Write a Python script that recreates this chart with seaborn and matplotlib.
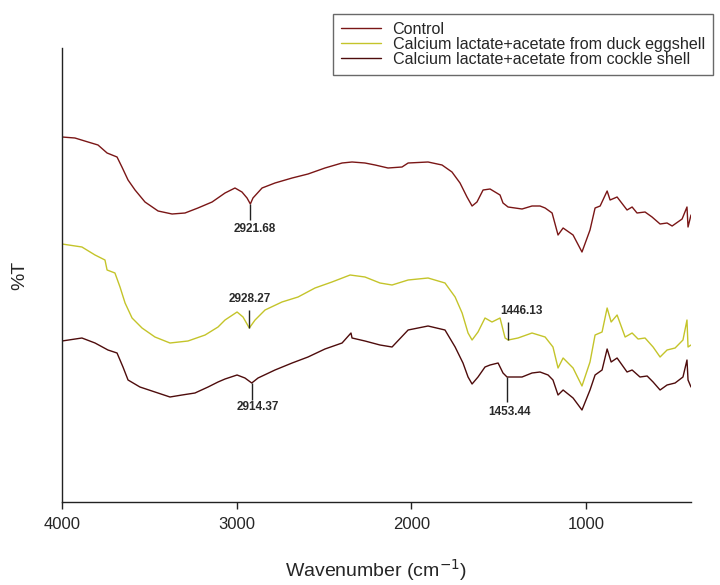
import numpy as np
import pandas as pd
import matplotlib
matplotlib.use("Agg")
import matplotlib.pyplot as plt
from matplotlib.lines import Line2D
import seaborn as sns

# ---------------- data ----------------
series_names = ["Control",
                "Calcium lactate+acetate from duck eggshell",
                "Calcium lactate+acetate from cockle shell"]

wn_control = [4000, 3926, 3851, 3794, 3742, 3685, 3657, 3622, 3582, 3525, 3450, 3370,
              3296, 3222, 3141, 3067, 3010, 2970, 2941, 2922, 2907, 2855, 2781, 2683,
              2592, 2495, 2397, 2340, 2266, 2208, 2134, 2054, 2019, 1905, 1825, 1768,
              1722, 1682, 1653, 1625, 1590, 1550, 1493, 1476, 1447, 1367, 1310, 1264,
              1235, 1195, 1161, 1132, 1075, 1024, 978, 949, 920, 880, 863, 823, 766,
              737, 709, 663, 623, 577, 537, 508, 451, 423, 417, 400]
t_control = [365, 364, 360, 357, 349, 345, 335, 322, 312, 300, 291, 288,
             289, 294, 300, 309, 314, 310, 304, 298, 304, 314, 319, 324,
             328, 334, 339, 340, 339, 337, 334, 335, 339, 340, 337, 330,
             319, 305, 296, 300, 312, 313, 307, 299, 295, 293, 296, 296,
             294, 289, 267, 274, 267, 250, 272, 294, 296, 311, 302, 305, 292,
             295, 289, 290, 285, 278, 279, 276, 283, 295, 275, 287]

wn_duck = [4000, 3886, 3811, 3754, 3742, 3697, 3668, 3639, 3599, 3542, 3468, 3382,
           3279, 3181, 3107, 3067, 2998, 2964, 2928, 2895, 2838, 2741, 2649, 2552,
           2455, 2351, 2266, 2180, 2111, 2019, 1905, 1808, 1750, 1710, 1676, 1653,
           1619, 1579, 1539, 1493, 1464, 1446, 1390, 1310, 1235, 1190, 1161, 1132,
           1075, 1024, 978, 949, 909, 880, 857, 823, 777, 737, 703, 663, 617, 577,
           537, 491, 446, 423, 417, 400]
t_duck = [258, 255, 247, 242, 232, 229, 215, 199, 184, 174, 165, 159,
          161, 167, 175, 182, 190, 185, 174, 182, 192, 200, 205, 214,
          220, 227, 225, 219, 217, 222, 224, 219, 205, 189, 169, 162,
          170, 184, 180, 184, 164, 162, 164, 169, 165, 155, 134, 144,
          134, 116, 140, 167, 170, 194, 180, 187, 165, 169, 163, 164, 155, 145,
          152, 154, 162, 182, 155, 157]

wn_cockle = [4000, 3886, 3811, 3737, 3685, 3651, 3622, 3554, 3468, 3382, 3313, 3239,
             3164, 3107, 3067, 2998, 2953, 2914, 2878, 2781, 2683, 2592, 2495, 2397,
             2346, 2340, 2266, 2180, 2111, 2019, 1905, 1808, 1750, 1705, 1676, 1653,
             1619, 1579, 1550, 1504, 1476, 1453, 1367, 1310, 1264, 1218, 1190, 1161,
             1132, 1075, 1024, 978, 949, 909, 880, 857, 823, 766, 737, 692, 651, 617,
             577, 537, 491, 446, 423, 417, 400]
t_cockle = [161, 164, 159, 152, 149, 135, 122, 115, 110, 105, 107, 109,
            115, 120, 123, 127, 124, 119, 124, 132, 139, 145, 153, 159,
            169, 164, 161, 157, 155, 172, 176, 172, 155, 139, 125, 118,
            125, 135, 137, 139, 129, 125, 125, 129, 130, 127, 122, 107,
            112, 104, 92, 112, 127, 132, 153, 140, 144, 130, 132, 125, 126, 120,
            112, 117, 119, 125, 142, 122, 115]

peak_labels = ["2921.68", "2928.27", "2914.37", "1446.13", "1453.44"]
peak_wn = [2921.68, 2928.27, 2914.37, 1446.13, 1453.44]
peak_series = [0, 1, 2, 1, 2]

x_ticks = [4000, 3000, 2000, 1000]

# ---------------- styling ----------------
sns.set_style("white")
plt.rcParams["font.family"] = ["Liberation Sans", "DejaVu Sans"]

colors = ["#7a1616", "#c4c42a", "#4e0c0c"]

frames = []
for name, wn, t in zip(series_names,
                       [wn_control, wn_duck, wn_cockle],
                       [t_control, t_duck, t_cockle]):
    frames.append(pd.DataFrame({"Wavenumber": wn, "T": t, "Sample": name}))
df = pd.concat(frames, ignore_index=True)

fig = plt.figure(figsize=(7.2, 5.85), dpi=100)
ax = fig.add_axes([62 / 720, 1 - 502 / 585, 629 / 720, 454 / 585])

sns.lineplot(data=df, x="Wavenumber", y="T", hue="Sample", hue_order=series_names,
             palette=colors, estimator=None, sort=False, linewidth=1.0,
             legend=False, ax=ax)

ax.set_xlim(4000, 400)
ax.set_ylim(0, 454)
ax.set_xticks(x_ticks)
ax.set_xticklabels([str(v) for v in x_ticks], fontsize=12)
ax.set_yticks([])
ax.tick_params(axis="x", direction="out", length=5, width=1, pad=5.5,
               color="#222222", bottom=True)
sns.despine(ax=ax)
for s in ["left", "bottom"]:
    ax.spines[s].set_color("#222222")
    ax.spines[s].set_linewidth(1.0)

ax.set_xlabel("Wavenumber (cm$^{-1}$)", fontsize=14)
ax.xaxis.set_label_coords(0.5, -0.122)
ax.set_ylabel("%T", fontsize=14)
ax.yaxis.set_label_coords(-0.054, 0.5)

# ---------------- peak annotations ----------------
all_wn = [wn_control, wn_duck, wn_cockle]
all_t = [t_control, t_duck, t_cockle]
# (line length, text offset, text x shift in px) per annotation
ann_style = [(-16, -25, 4), (18, 29, 0), (-17, -24, 6), (18, 29, 13), (-25, -35, 3)]
for lab, pw, si, (ln, to, dx) in zip(peak_labels, peak_wn, peak_series, ann_style):
    w = np.asarray(all_wn[si])[::-1]
    v = np.asarray(all_t[si])[::-1]
    val = np.interp(pw, w, v)
    ax.vlines(pw, val, val + ln, color="#222222", linewidth=1.0)
    ax.annotate(lab, xy=(pw, val + to), xytext=(dx * 0.72, 0),
                textcoords="offset points", ha="center", va="center",
                fontsize=8.5, color="#2a2a2a", fontweight="bold")

# ---------------- legend ----------------
handles = [Line2D([], [], color=c, linewidth=1.0) for c in colors]
leg = fig.legend(handles, series_names, loc="upper left",
                 bbox_to_anchor=(333 / 720, 1 - 14 / 585),
                 fontsize=11.6, frameon=True, fancybox=False, shadow=False,
                 handlelength=2.45, handletextpad=0.75, labelspacing=0.0,
                 borderpad=0.5, borderaxespad=0)
leg.get_frame().set_edgecolor("#444444")
leg.get_frame().set_linewidth(1.0)

fig.savefig("out.png", dpi=100)
